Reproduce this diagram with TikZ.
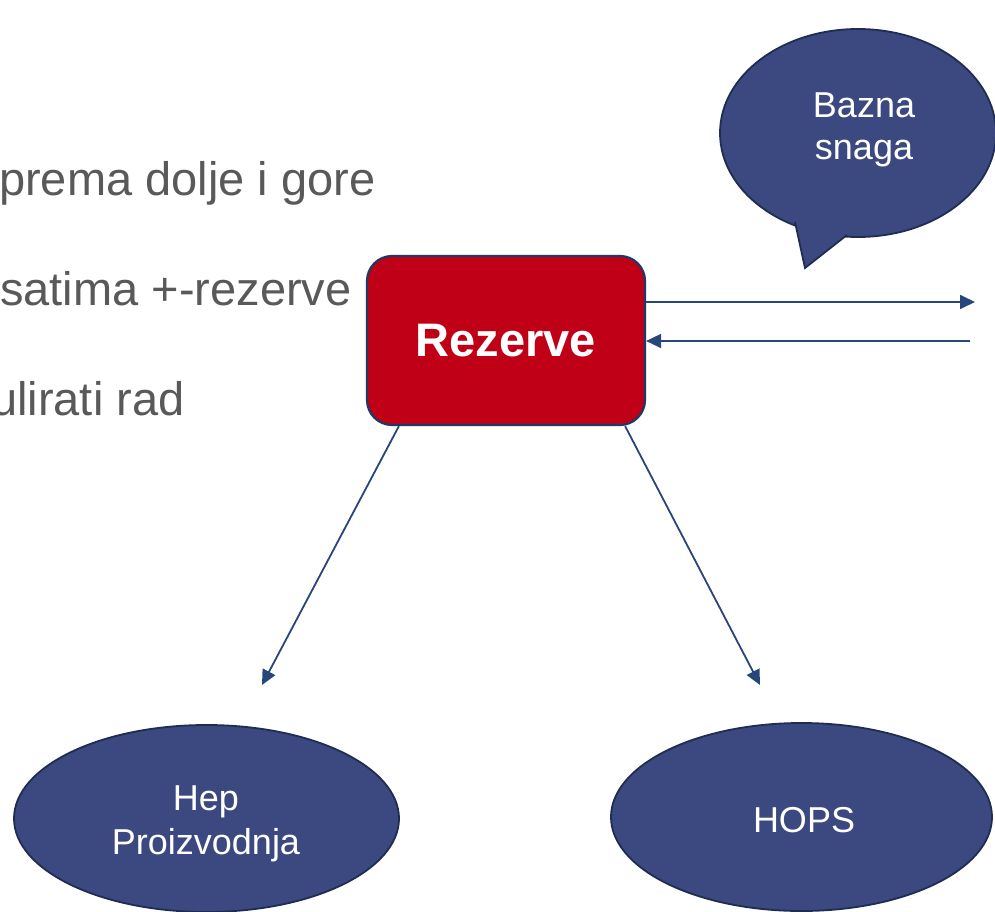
\documentclass[tikz,border=0pt]{standalone}
\usepackage{fontspec}
\setmainfont{Liberation Sans}
\usetikzlibrary{arrows.meta,shapes.geometric}
\definecolor{navyfill}{RGB}{60,72,128}
\definecolor{navyline}{RGB}{31,45,80}
\definecolor{boxred}{RGB}{192,0,22}
\definecolor{boxline}{RGB}{31,56,100}
\definecolor{arrowcol}{RGB}{40,70,122}
\definecolor{greytext}{RGB}{89,89,89}
\tikzset{
  bubble/.style={ellipse, fill=navyfill, draw=navyline, line width=1.8pt, inner sep=0pt},
  whitetext/.style={text=white, font=\fontsize{36}{42}\selectfont, align=center, inner sep=0pt},
  redbox/.style={rectangle, rounded corners=25pt, fill=boxred, draw=boxline, line width=2.2pt,
    minimum width=278pt, minimum height=169pt, text=white, font=\bfseries\fontsize{47}{56}\selectfont},
  conn/.style={draw=arrowcol, line width=1.8pt, -{Triangle[length=15pt,width=14pt]}},
  bullettext/.style={text=greytext, font=\fontsize{47}{56}\selectfont, inner sep=0pt, anchor=base west}
}
\begin{document}
\begin{tikzpicture}[x=1pt,y=-1pt]
\clip (0,0) rectangle (995,912);
\fill[white] (0,0) rectangle (995,912);

% left text (cropped bullet lines, cut at the left edge as in the reference)
\node[bullettext] (t1) at (-1,195) {prema dolje i gore};
\node[bullettext] (t2) at (0,305) {satima +-rezerve};
\node[bullettext] (t3) at (-9,415) {ulirati rad};

% callout
\node[bubble, minimum width=276pt, minimum height=208pt] (callout) at (858,133) {};
\coordinate (tA) at (795,222);
\coordinate (tB) at (847,235);
\coordinate (tip) at (805,268);
\fill[navyfill] (tA) -- (tip) -- (tB) -- (842,215) -- (800,208) -- cycle;
\draw[navyline, line width=1.8pt, line join=miter] (tA) -- (tip) -- (tB);
\node[whitetext] (bazna) at (864,130) {Bazna\\snaga};

% central box
\node[redbox] (box) at (506,340.5) {Rezerve};

% horizontal arrows
\coordinate (r1) at (975,302);
\coordinate (r2) at (970,341);
\draw[conn] (box.east |- r1) -- (r1);
\draw[conn] (r2) -- (box.east |- r2);

% diagonal arrows
\coordinate (s1) at ([xshift=33pt]box.south west);
\coordinate (s2) at ([xshift=-21pt]box.south east);
\coordinate (e1) at (262,685);
\coordinate (e2) at (760,685);
\draw[conn] (s1) -- (e1);
\draw[conn] (s2) -- (e2);

% ellipses
\node[bubble, minimum width=385pt, minimum height=187pt] (hep) at (206.5,818.5) {};
\node[whitetext, font=\fontsize{36}{44}\selectfont] (heptext) at (206,824) {Hep\\Proizvodnja};
\node[bubble, minimum width=381pt, minimum height=188pt] (hops) at (801.5,817) {};
\node[whitetext] (hopstext) at (804,820) {HOPS};
\end{tikzpicture}
\end{document}
